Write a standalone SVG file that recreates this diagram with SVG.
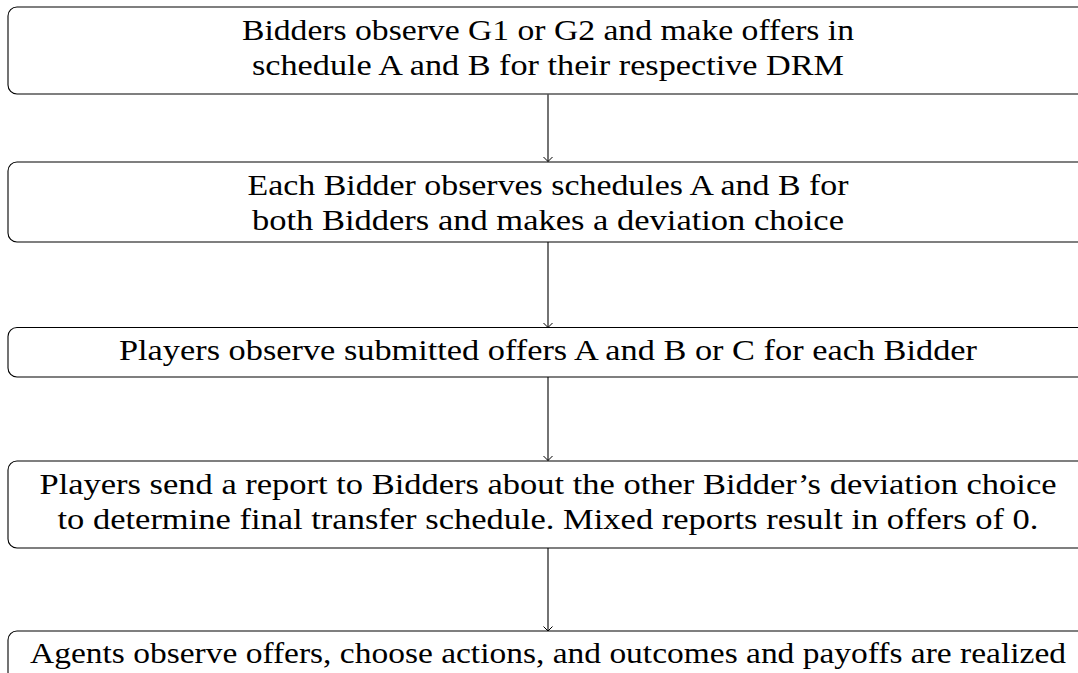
<svg xmlns="http://www.w3.org/2000/svg" width="1078" height="673" viewBox="0 0 1078 673">
  <style>
    .box { fill: #ffffff; stroke: #000000; stroke-width: 1.1; }
    .lbl { font-family: "Liberation Serif", "Times New Roman", Times, serif; font-size: 30px; fill: #000000; text-anchor: middle; }
    .conn { stroke: #000000; stroke-width: 1.1; fill: none; }
  </style>
  <defs>
    <marker id="ah" markerWidth="12" markerHeight="12" refX="0" refY="0" orient="auto" markerUnits="userSpaceOnUse" overflow="visible">
      <path d="M-4.5,-4.5 L0,0 L-4.5,4.5" fill="none" stroke="#000000" stroke-width="1"/>
    </marker>
  </defs>
  <rect width="1078" height="673" fill="#ffffff"/>

  <g id="connectors">
    <line class="conn" x1="548" y1="94.5" x2="548" y2="161.5" marker-end="url(#ah)"/>
    <line class="conn" x1="548" y1="242" x2="548" y2="327.5" marker-end="url(#ah)"/>
    <line class="conn" x1="548" y1="377" x2="548" y2="460.5" marker-end="url(#ah)"/>
    <line class="conn" x1="548" y1="548" x2="548" y2="631" marker-end="url(#ah)"/>
  </g>

  <g id="node1">
    <rect class="box" x="8" y="7" width="1080" height="87" rx="9" ry="9"/>
    <text class="lbl" x="548" y="40" textLength="612" lengthAdjust="spacingAndGlyphs">Bidders observe G1 or G2 and make offers in</text>
    <text class="lbl" x="548" y="75" textLength="592" lengthAdjust="spacingAndGlyphs">schedule A and B for their respective DRM</text>
  </g>

  <g id="node2">
    <rect class="box" x="8" y="162" width="1080" height="80" rx="9" ry="9"/>
    <text class="lbl" x="548" y="195" textLength="601" lengthAdjust="spacingAndGlyphs">Each Bidder observes schedules A and B for</text>
    <text class="lbl" x="548" y="230" textLength="592" lengthAdjust="spacingAndGlyphs">both Bidders and makes a deviation choice</text>
  </g>

  <g id="node3">
    <rect class="box" x="8" y="327.5" width="1080" height="49.5" rx="9" ry="9"/>
    <text class="lbl" x="548" y="359.5" textLength="858" lengthAdjust="spacingAndGlyphs">Players observe submitted offers A and B or C for each Bidder</text>
  </g>

  <g id="node4">
    <rect class="box" x="8" y="461" width="1080" height="87" rx="9" ry="9"/>
    <text class="lbl" x="548" y="494" textLength="1017" lengthAdjust="spacingAndGlyphs">Players send a report to Bidders about the other Bidder’s deviation choice</text>
    <text class="lbl" x="548" y="529" textLength="981" lengthAdjust="spacingAndGlyphs">to determine final transfer schedule. Mixed reports result in offers of 0.</text>
  </g>

  <g id="node5">
    <rect class="box" x="8" y="631" width="1080" height="50" rx="9" ry="9"/>
    <text class="lbl" x="548" y="663" textLength="1036" lengthAdjust="spacingAndGlyphs">Agents observe offers, choose actions, and outcomes and payoffs are realized</text>
  </g>
</svg>
